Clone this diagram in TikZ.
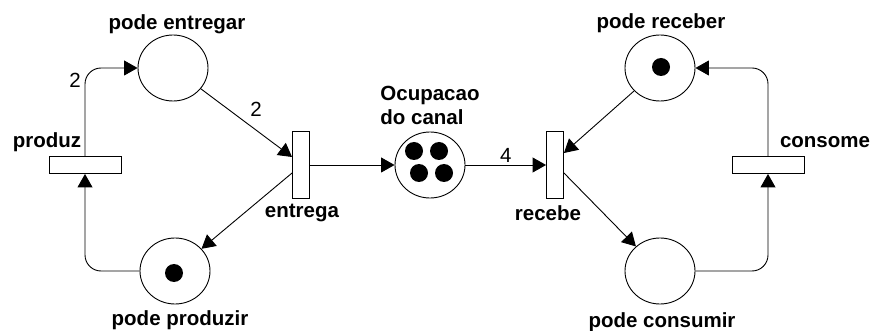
\documentclass[tikz,border=0pt]{standalone}
\usepackage{fontspec}
\setmainfont{Liberation Sans}
\usetikzlibrary{positioning,shapes.geometric,arrows.meta}

\tikzset{
  >={Triangle[length=13.5pt,width=15pt]},
  every node/.style={font=\fontsize{20.5}{24}\selectfont},
  % --- nodes
  place/.style = {ellipse, draw, line width=0.9pt, minimum width=70pt,
                  minimum height=66pt, inner sep=0pt},
  hbar/.style  = {rectangle, draw, fill=white, line width=0.9pt,
                  minimum width=72pt, minimum height=17pt, inner sep=0pt},
  vbar/.style  = {hbar, minimum width=17pt, minimum height=67pt},
  tok/.style   = {circle, fill=black, minimum size=18pt, inner sep=0pt},
  lbl/.style   = {font=\fontsize{20.5}{24}\selectfont\bfseries, align=left},
  wt/.style    = {inner sep=2pt},
  % --- edges
  e/.style     = {->, line width=0.9pt},
  eround/.style= {e, rounded corners=16pt},
}

\begin{document}
\begin{tikzpicture}[x=1pt, y=-1pt]
  \useasboundingbox (0,0) rectangle (873,331);

  % places
  \node[place] (pentr)  at (173,68)  {};
  \node[place] (pprod)  at (175,271) {};
  \node[place] (canal)  at (430,165) {};
  \node[place] (preceb) at (660,68)  {};
  \node[place] (pcons)  at (660,271) {};

  % transitions
  \node[hbar] (produz)  at (85,165)  {};
  \node[vbar] (entrega) at (301,165) {};
  \node[vbar] (recebe)  at (555,165) {};
  \node[hbar] (consome) at (768,165) {};

  % tokens
  \node[tok] (t1) at (174,273) {};
  \node[tok] (t2) at (661,67)  {};
  \node[tok] (c1) at (414,151) {};
  \node[tok] (c2) at (439,151) {};
  \node[tok] (c3) at (419,173) {};
  \node[tok] (c4) at (444,173) {};

  % labels
  \node[lbl] (lpentr)  at (177,24)  {pode entregar};
  \node[lbl] (lpprod)  at (180,320) {pode produzir};
  \node[lbl] (lprodz)  at (47,142)  {produz};
  \node[lbl] (lentr)   at (302,213) {entrega};
  \node[lbl] (lcanal)  at (430,105) {Ocupacao\\do canal};
  \node[lbl] (lreceb)  at (548,213) {recebe};
  \node[lbl] (lpreceb) at (661,23)  {pode receber};
  \node[lbl] (lcons)   at (825,142) {consome};
  \node[lbl] (lpcons)  at (662,322) {pode consumir};

  % arcs, producer side
  \draw[eround] (produz.north) |- (pentr.west);
  \node[wt] (w1) at (75,80) {2};
  \draw[eround] (pprod.west) -| (produz.south);
  \draw[e] (pentr) -- ([yshift=8pt]entrega.west);
  \node[wt] (w2) at (256,109) {2};
  \draw[e] ([yshift=-8pt]entrega.west) -- (pprod);
  \draw[e] (entrega.east) -- (canal.west);

  % arcs, consumer side
  \draw[e] (canal.east) -- node[wt, above] (w3) {4} (recebe.west);
  \draw[e] (preceb) -- ([yshift=12pt]recebe.east);
  \draw[e] ([yshift=-8pt]recebe.east) -- (pcons);
  \draw[eround] (pcons.east) -| (consome.south);
  \draw[eround] (consome.north) |- (preceb.east);
\end{tikzpicture}
\end{document}
